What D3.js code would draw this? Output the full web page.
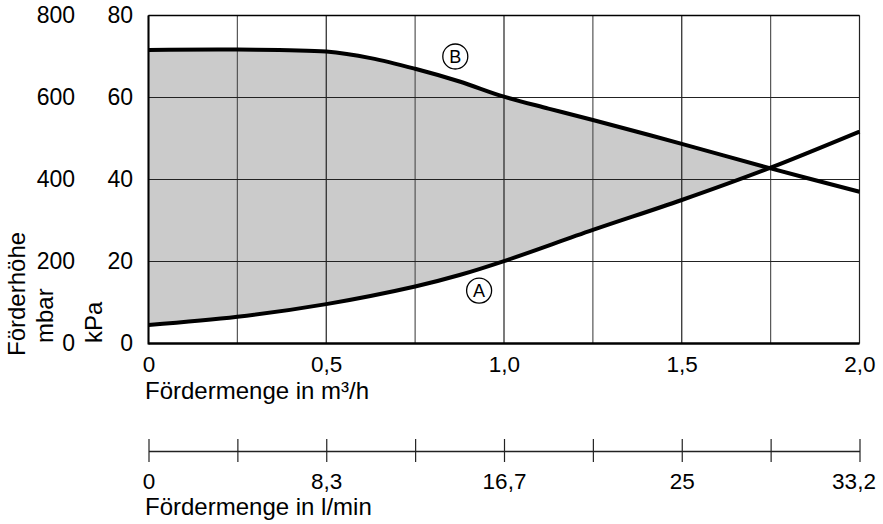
<!DOCTYPE html>
<html>
<head>
<meta charset="utf-8">
<script src="https://cdn.jsdelivr.net/npm/d3@7/dist/d3.min.js"></script>
<style>
  html, body { margin: 0; padding: 0; background: #fff; }
  svg { display: block; font-family: "Liberation Sans", Arial, Helvetica, sans-serif; }
</style>
</head>
<body>
<svg id="chart" width="883" height="524"></svg>
<script>
// ---- data ----
const flowM3h = [0, 0.25, 0.5, 0.625, 0.75, 0.875, 1.0, 1.125, 1.25, 1.5, 1.75, 2.0];
const curveB_kPa = [71.6, 71.7, 71.2, 69.6, 67.0, 63.9, 60.2, 57.3, 54.5, 48.7, 42.7, 37.0];
const flowA_m3h = [0, 0.25, 0.5, 0.75, 0.875, 1.0, 1.25, 1.5, 1.75, 2.0];
const curveA_kPa = [4.5, 6.5, 9.6, 13.9, 16.7, 20.1, 27.7, 35.0, 42.9, 51.7];

const xGridValues = [0, 0.25, 0.5, 0.75, 1.0, 1.25, 1.5, 1.75, 2.0];
const xTickValues = [0, 0.5, 1.0, 1.5, 2.0];
const xTickLabels = ["0", "0,5", "1,0", "1,5", "2,0"];
const lminTickLabels = ["0", "8,3", "16,7", "25", "33,2"];
const kPaTicks = [0, 20, 40, 60, 80];
const mbarTicks = [0, 200, 400, 600, 800];

const labelA = "A", labelB = "B";
const labelApos = [0.93, 12.9];   // [m3/h, kPa]
const labelBpos = [0.863, 70.0];

// ---- layout ----
const svg = d3.select("#chart");
const pLeft = 148.5, pRight = 859.5, pTop = 15.5, pBottom = 343.5;
const x = d3.scaleLinear().domain([0, 2]).range([pLeft, pRight]);
const y = d3.scaleLinear().domain([0, 80]).range([pBottom, pTop]);
const yMbar = d3.scaleLinear().domain([0, 800]).range([pBottom, pTop]);
const FS = 22.5;

const dataB = flowM3h.map((f, i) => ({ x: f, y: curveB_kPa[i] }));
const dataA = flowA_m3h.map((f, i) => ({ x: f, y: curveA_kPa[i] }));
const curve = d3.curveCatmullRom.alpha(0.5);

// clip: region below curve B
svg.append("clipPath").attr("id", "belowB")
  .append("path")
  .attr("d", d3.area().x(d => x(d.x)).y0(y(0)).y1(d => y(d.y)).curve(curve)(dataB));

// fill: region above curve A, clipped to below B
svg.append("path")
  .attr("clip-path", "url(#belowB)")
  .attr("fill", "#cbcbcb")
  .attr("d", d3.area().x(d => x(d.x)).y0(d => y(d.y)).y1(y(80)).curve(curve)(dataA));

// grid
const grid = svg.append("g");
grid.selectAll("line.v").data(xGridValues).join("line")
  .attr("x1", d => x(d)).attr("x2", d => x(d))
  .attr("y1", y(80)).attr("y2", y(0))
  .attr("stroke", (d, i) => i % 2 ? "#555" : "#222")
  .attr("stroke-width", 1.2);
grid.selectAll("line.h").data(kPaTicks).join("line")
  .attr("x1", x(0)).attr("x2", x(2))
  .attr("y1", d => y(d)).attr("y2", d => y(d))
  .attr("stroke", "#222").attr("stroke-width", 1.2);

// frame
svg.append("line").attr("x1", x(0)).attr("x2", x(2)).attr("y1", y(0)).attr("y2", y(0))
  .attr("stroke", "#000").attr("stroke-width", 2.4);
svg.append("line").attr("x1", x(0)).attr("x2", x(0)).attr("y1", y(80)).attr("y2", y(0) + 1)
  .attr("stroke", "#000").attr("stroke-width", 2);
svg.append("line").attr("x1", x(0)).attr("x2", x(2)).attr("y1", y(80)).attr("y2", y(80))
  .attr("stroke", "#000").attr("stroke-width", 1.6);

// curves
const line = d3.line().x(d => x(d.x)).y(d => y(d.y)).curve(curve);
svg.append("path").attr("d", line(dataB)).attr("fill", "none").attr("stroke", "#000").attr("stroke-width", 4);
svg.append("path").attr("d", line(dataA)).attr("fill", "none").attr("stroke", "#000").attr("stroke-width", 4);

// circled labels
function circled(lbl, pos) {
  const g = svg.append("g").attr("transform", `translate(${x(pos[0])},${y(pos[1])})`);
  g.append("circle").attr("r", 12.5).attr("fill", "#fff").attr("stroke", "#000").attr("stroke-width", 1.3);
  g.append("text").attr("text-anchor", "middle").attr("dy", "0.36em")
    .attr("font-size", 18).text(lbl);
}
circled(labelB, labelBpos);
circled(labelA, labelApos);

// y axes (kPa and mbar)
const yAxisK = svg.append("g").attr("transform", "translate(136,0)")
  .call(d3.axisLeft(y).tickValues(kPaTicks).tickSize(0).tickPadding(3).tickFormat(d3.format("d")));
const yAxisM = svg.append("g").attr("transform", "translate(78,0)")
  .call(d3.axisLeft(yMbar).tickValues(mbarTicks).tickSize(0).tickPadding(3).tickFormat(d3.format("d")));
[yAxisK, yAxisM].forEach(g => {
  g.select(".domain").remove();
  g.selectAll("text").attr("font-size", 23).attr("fill", "#000").attr("font-family", null);
});

// rotated y titles
function rotTitle(txt, xb, ystart) {
  svg.append("text").attr("transform", `translate(${xb},${ystart}) rotate(-90)`)
    .attr("font-size", 24).attr("text-anchor", "start").text(txt);
}
rotTitle("Förderhöhe", 25, 356);
rotTitle("mbar", 53, 343);
rotTitle("kPa", 102, 343);

// x axis (m3/h) labels
const xAxis = svg.append("g").attr("transform", `translate(0,${pBottom})`)
  .call(d3.axisBottom(x).tickValues(xTickValues).tickSize(0).tickPadding(0)
    .tickFormat((d, i) => xTickLabels[i]));
xAxis.select(".domain").remove();
xAxis.selectAll("text").attr("font-size", FS).attr("fill", "#000").attr("font-family", null)
  .attr("dy", null).attr("y", 372 - pBottom);

svg.append("text").attr("x", 145).attr("y", 399).attr("font-size", 24).text("Fördermenge in m³/h");

// second x axis (l/min)
const axY = 451;
const xAxis2 = svg.append("g").attr("transform", `translate(0,${axY})`)
  .call(d3.axisBottom(x).tickValues(xGridValues).tickSizeInner(11).tickSizeOuter(0).tickPadding(0)
    .tickFormat((d, i) => i % 2 === 0 ? lminTickLabels[i / 2] : ""));
xAxis2.select(".domain").attr("stroke", "#222").attr("stroke-width", 1.4);
xAxis2.selectAll(".tick line").attr("y1", -12).attr("y2", 11).attr("stroke", "#222").attr("stroke-width", 1.2);
xAxis2.selectAll("text").attr("font-size", FS).attr("fill", "#000").attr("font-family", null)
  .attr("dy", null).attr("y", 489 - axY);
// last label kept inside the picture, as in the reference
xAxis2.selectAll(".tick").filter(d => d === 2.0).select("text").attr("dx", -6);

svg.append("text").attr("x", 145).attr("y", 515).attr("font-size", 24).text("Fördermenge in l/min");
</script>
</body>
</html>
